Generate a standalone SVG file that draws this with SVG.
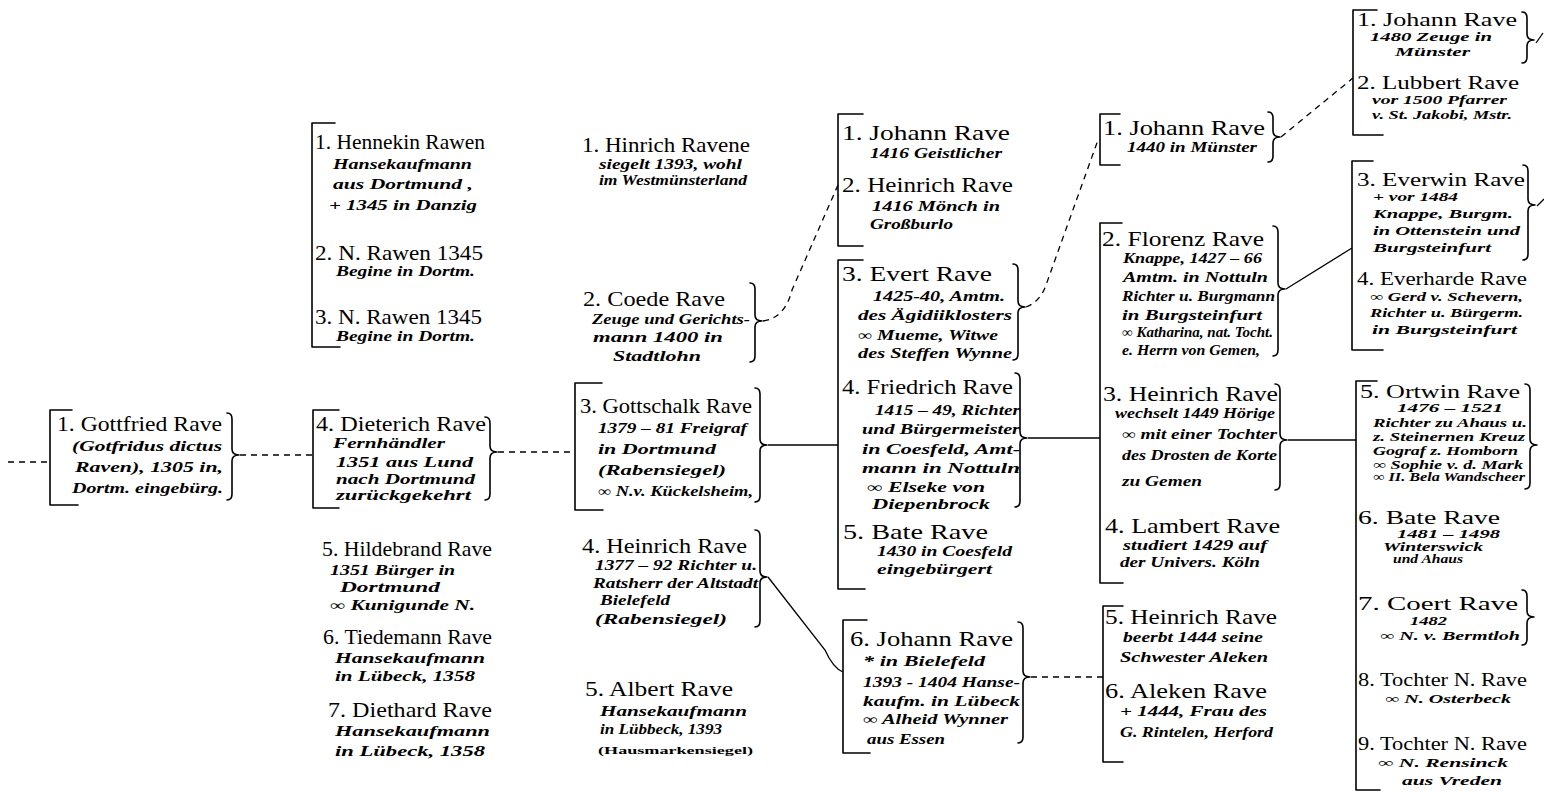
<svg xmlns="http://www.w3.org/2000/svg" width="1544" height="796" viewBox="0 0 1544 796">
<style>
.t{font-family:"Liberation Serif",serif;font-size:21px;fill:#000}
.t6{font-family:"Liberation Serif",serif;font-size:19px;fill:#000}
.d{font-family:"Liberation Serif",serif;font-size:14px;font-style:italic;font-weight:bold;fill:#000}
.d6{font-family:"Liberation Serif",serif;font-size:12.5px;font-style:italic;font-weight:bold;fill:#000}
.ds{font-family:"Liberation Serif",serif;font-size:11px;font-weight:bold;fill:#000}
.b{fill:none;stroke:#000;stroke-width:1.6;stroke-linejoin:round;stroke-linecap:round}
.c{fill:none;stroke:#000;stroke-width:1.3}
.dash{stroke-dasharray:6 5}
</style>
<rect width="1544" height="796" fill="#fff"/>

<g id="connectors">
<path class="c dash" d="M8,462 L49,462"/>
<path class="c dash" d="M240,455 L312,455"/>
<path class="c dash" d="M498,452 L574,452"/>
<path class="c" d="M768,445 L838,445"/>
<path class="c dash" d="M763,321 Q785,318 792,290 L838,185"/>
<path class="c" d="M768,577 L825,650 Q833,668 843,672"/>
<path class="c dash" d="M1026,307 Q1040,302 1046,285 L1098,140"/>
<path class="c" d="M1028,438 L1100,438"/>
<path class="c dash" d="M1031,677 L1103,677"/>
<path class="c dash" d="M1281,137 L1353,78"/>
<path class="c" d="M1286,289 L1352,248"/>
<path class="c" d="M1288,440 L1356,440"/>
<path class="c" d="M1536,43 L1543,33"/>
<path class="c" d="M1537,206 L1544,199"/>
</g>

<g id="n-gottfried">
<path class="b" d="M72,410 L50,410 L50,505 L78,505"/>
<path class="b" d="M227,413 Q232,413 232,419 L232,449 Q232,455 239,455 Q232,455 232,461 L232,494 Q232,500 227,500"/>
<text class="t" x="57" y="431" textLength="165" lengthAdjust="spacingAndGlyphs">1. Gottfried Rave</text>
<text class="d" x="72" y="451" textLength="150" lengthAdjust="spacingAndGlyphs">(Gotfridus dictus</text>
<text class="d" x="75" y="472" textLength="148" lengthAdjust="spacingAndGlyphs">Raven), 1305 in,</text>
<text class="d" x="72" y="493" textLength="151" lengthAdjust="spacingAndGlyphs">Dortm. eingebürg.</text>
</g>

<g id="n-hennekin">
<path class="b" d="M335,123 L312,123 L312,347 L340,347"/>
<text class="t" x="315" y="149" textLength="170" lengthAdjust="spacingAndGlyphs">1. Hennekin Rawen</text>
<text class="d" x="333" y="169" textLength="139" lengthAdjust="spacingAndGlyphs">Hansekaufmann</text>
<text class="d" x="333" y="189" textLength="140" lengthAdjust="spacingAndGlyphs">aus Dortmund ,</text>
<text class="d" x="329" y="210" textLength="148" lengthAdjust="spacingAndGlyphs">+ 1345 in Danzig</text>
<text class="t" x="315" y="260" textLength="168" lengthAdjust="spacingAndGlyphs">2. N. Rawen 1345</text>
<text class="d" x="336" y="276" textLength="139" lengthAdjust="spacingAndGlyphs">Begine in Dortm.</text>
<text class="t" x="315" y="324" textLength="167" lengthAdjust="spacingAndGlyphs">3. N. Rawen 1345</text>
<text class="d" x="336" y="341" textLength="139" lengthAdjust="spacingAndGlyphs">Begine in Dortm.</text>
</g>

<g id="n-dieterich">
<path class="b" d="M339,410 L313,410 L313,508 L339,508"/>
<path class="b" d="M485,417 Q490,417 490,423 L490,446 Q490,452 497,452 Q490,452 490,458 L490,494 Q490,500 485,500"/>
<text class="t" x="316" y="431" textLength="170" lengthAdjust="spacingAndGlyphs">4. Dieterich Rave</text>
<text class="d" x="333" y="448" textLength="112" lengthAdjust="spacingAndGlyphs">Fernhändler</text>
<text class="d" x="336" y="467" textLength="137" lengthAdjust="spacingAndGlyphs">1351 aus Lund</text>
<text class="d" x="336" y="484" textLength="139" lengthAdjust="spacingAndGlyphs">nach Dortmund</text>
<text class="d" x="336" y="500" textLength="135" lengthAdjust="spacingAndGlyphs">zurückgekehrt</text>
</g>

<g id="n-hildebrand">
<text class="t" x="322" y="556" textLength="170" lengthAdjust="spacingAndGlyphs">5. Hildebrand Rave</text>
<text class="d" x="330" y="575" textLength="125" lengthAdjust="spacingAndGlyphs">1351 Bürger in</text>
<text class="d" x="340" y="592" textLength="100" lengthAdjust="spacingAndGlyphs">Dortmund</text>
<text class="d" x="330" y="610" textLength="145" lengthAdjust="spacingAndGlyphs">∞ Kunigunde N.</text>
</g>
<g id="n-tiedemann">
<text class="t" x="323" y="644" textLength="169" lengthAdjust="spacingAndGlyphs">6. Tiedemann Rave</text>
<text class="d" x="335" y="663" textLength="150" lengthAdjust="spacingAndGlyphs">Hansekaufmann</text>
<text class="d" x="335" y="681" textLength="140" lengthAdjust="spacingAndGlyphs">in Lübeck, 1358</text>
</g>
<g id="n-diethard">
<text class="t" x="328" y="717" textLength="164" lengthAdjust="spacingAndGlyphs">7. Diethard Rave</text>
<text class="d" x="335" y="736" textLength="155" lengthAdjust="spacingAndGlyphs">Hansekaufmann</text>
<text class="d" x="335" y="756" textLength="150" lengthAdjust="spacingAndGlyphs">in Lübeck, 1358</text>
</g>

<g id="n-hinrich">
<text class="t" x="582" y="152" textLength="168" lengthAdjust="spacingAndGlyphs">1. Hinrich Ravene</text>
<text class="d" x="599" y="169" textLength="143" lengthAdjust="spacingAndGlyphs">siegelt 1393, wohl</text>
<text class="d" x="599" y="185" textLength="148" lengthAdjust="spacingAndGlyphs">im Westmünsterland</text>
</g>

<g id="n-coede">
<path class="b" d="M750,283 Q755,283 755,289 L755,315 Q755,321 762,321 Q755,321 755,327 L755,356 Q755,362 750,362"/>
<text class="t" x="583" y="306" textLength="142" lengthAdjust="spacingAndGlyphs">2. Coede Rave</text>
<text class="d" x="592" y="324" textLength="158" lengthAdjust="spacingAndGlyphs">Zeuge und Gerichts-</text>
<text class="d" x="593" y="342" textLength="130" lengthAdjust="spacingAndGlyphs">mann 1400 in</text>
<text class="d" x="613" y="361" textLength="88" lengthAdjust="spacingAndGlyphs">Stadtlohn</text>
</g>

<g id="n-gottschalk">
<path class="b" d="M602,383 L575,383 L575,510 L603,510"/>
<path class="b" d="M755,388 Q760,388 760,394 L760,439 Q760,445 767,445 Q760,445 760,451 L760,496 Q760,502 755,502"/>
<text class="t" x="580" y="413" textLength="172" lengthAdjust="spacingAndGlyphs">3. Gottschalk Rave</text>
<text class="d" x="598" y="433" textLength="149" lengthAdjust="spacingAndGlyphs">1379 – 81 Freigraf</text>
<text class="d" x="598" y="454" textLength="118" lengthAdjust="spacingAndGlyphs">in Dortmund</text>
<text class="d" x="598" y="475" textLength="128" lengthAdjust="spacingAndGlyphs">(Rabensiegel)</text>
<text class="d" x="598" y="496" textLength="155" lengthAdjust="spacingAndGlyphs">∞ N.v. Kückelsheim,</text>
</g>

<g id="n-heinrich4">
<path class="b" d="M755,530 Q760,530 760,536 L760,571 Q760,577 767,577 Q760,577 760,583 L760,621 Q760,627 755,627"/>
<text class="t" x="582" y="553" textLength="165" lengthAdjust="spacingAndGlyphs">4. Heinrich Rave</text>
<text class="d" x="595" y="570" textLength="162" lengthAdjust="spacingAndGlyphs">1377 – 92 Richter u.</text>
<text class="d" x="593" y="588" textLength="165" lengthAdjust="spacingAndGlyphs">Ratsherr der Altstadt</text>
<text class="d" x="600" y="605" textLength="70" lengthAdjust="spacingAndGlyphs">Bielefeld</text>
<text class="d" x="595" y="624" textLength="132" lengthAdjust="spacingAndGlyphs">(Rabensiegel)</text>
</g>

<g id="n-albert">
<text class="t" x="585" y="696" textLength="148" lengthAdjust="spacingAndGlyphs">5. Albert Rave</text>
<text class="d" x="600" y="716" textLength="147" lengthAdjust="spacingAndGlyphs">Hansekaufmann</text>
<text class="d" x="600" y="734" textLength="122" lengthAdjust="spacingAndGlyphs">in Lübbeck, 1393</text>
<text class="ds" x="598" y="754" textLength="155" lengthAdjust="spacingAndGlyphs">(Hausmarkensiegel)</text>
</g>

<g id="n-johann-heinrich-1416">
<path class="b" d="M863,114 L838,114 L838,246 L863,246"/>
<text class="t" x="842" y="140" textLength="168" lengthAdjust="spacingAndGlyphs">1. Johann Rave</text>
<text class="d" x="870" y="158" textLength="132" lengthAdjust="spacingAndGlyphs">1416 Geistlicher</text>
<text class="t" x="842" y="192" textLength="171" lengthAdjust="spacingAndGlyphs">2. Heinrich Rave</text>
<text class="d" x="872" y="211" textLength="128" lengthAdjust="spacingAndGlyphs">1416 Mönch in</text>
<text class="d" x="870" y="229" textLength="83" lengthAdjust="spacingAndGlyphs">Großburlo</text>
</g>

<g id="n-evert-friedrich-bate">
<path class="b" d="M863,260 L838,260 L838,589 L865,589"/>
<path class="b" d="M1013,264 Q1018,264 1018,270 L1018,301 Q1018,307 1025,307 Q1018,307 1018,313 L1018,354 Q1018,360 1013,360"/>
<path class="b" d="M1015,373 Q1020,373 1020,379 L1020,432 Q1020,438 1027,438 Q1020,438 1020,444 L1020,501 Q1020,507 1015,507"/>
<text class="t" x="842" y="281" textLength="150" lengthAdjust="spacingAndGlyphs">3. Evert Rave</text>
<text class="d" x="873" y="301" textLength="132" lengthAdjust="spacingAndGlyphs">1425-40, Amtm.</text>
<text class="d" x="858" y="320" textLength="154" lengthAdjust="spacingAndGlyphs">des Ägidiiklosters</text>
<text class="d" x="858" y="340" textLength="140" lengthAdjust="spacingAndGlyphs">∞ Mueme, Witwe</text>
<text class="d" x="858" y="358" textLength="154" lengthAdjust="spacingAndGlyphs">des Steffen Wynne</text>
<text class="t" x="842" y="394" textLength="171" lengthAdjust="spacingAndGlyphs">4. Friedrich Rave</text>
<text class="d" x="875" y="415" textLength="145" lengthAdjust="spacingAndGlyphs">1415 – 49, Richter</text>
<text class="d" x="862" y="434" textLength="158" lengthAdjust="spacingAndGlyphs">und Bürgermeister</text>
<text class="d" x="862" y="454" textLength="158" lengthAdjust="spacingAndGlyphs">in Coesfeld, Amt-</text>
<text class="d" x="862" y="473" textLength="158" lengthAdjust="spacingAndGlyphs">mann in Nottuln</text>
<text class="d" x="867" y="492" textLength="118" lengthAdjust="spacingAndGlyphs">∞ Elseke von</text>
<text class="d" x="872" y="509" textLength="118" lengthAdjust="spacingAndGlyphs">Diepenbrock</text>
<text class="t" x="843" y="539" textLength="145" lengthAdjust="spacingAndGlyphs">5. Bate Rave</text>
<text class="d" x="877" y="556" textLength="135" lengthAdjust="spacingAndGlyphs">1430 in Coesfeld</text>
<text class="d" x="877" y="574" textLength="115" lengthAdjust="spacingAndGlyphs">eingebürgert</text>
</g>

<g id="n-johann6">
<path class="b" d="M867,620 L843,620 L843,753 L870,753"/>
<path class="b" d="M1018,622 Q1023,622 1023,628 L1023,671 Q1023,677 1030,677 Q1023,677 1023,683 L1023,737 Q1023,743 1018,743"/>
<text class="t" x="850" y="646" textLength="163" lengthAdjust="spacingAndGlyphs">6. Johann Rave</text>
<text class="d" x="863" y="666" textLength="122" lengthAdjust="spacingAndGlyphs">* in Bielefeld</text>
<text class="d" x="863" y="687" textLength="157" lengthAdjust="spacingAndGlyphs">1393 - 1404 Hanse-</text>
<text class="d" x="863" y="706" textLength="157" lengthAdjust="spacingAndGlyphs">kaufm. in Lübeck</text>
<text class="d" x="863" y="724" textLength="145" lengthAdjust="spacingAndGlyphs">∞ Alheid Wynner</text>
<text class="d" x="867" y="744" textLength="78" lengthAdjust="spacingAndGlyphs">aus Essen</text>
</g>

<g id="n-johann1440">
<path class="b" d="M1120,114 L1100,114 L1100,165 L1120,165"/>
<path class="b" d="M1268,112 Q1273,112 1273,118 L1273,131 Q1273,137 1280,137 Q1273,137 1273,143 L1273,156 Q1273,162 1268,162"/>
<text class="t" x="1103" y="135" textLength="162" lengthAdjust="spacingAndGlyphs">1. Johann Rave</text>
<text class="d" x="1127" y="152" textLength="130" lengthAdjust="spacingAndGlyphs">1440 in Münster</text>
</g>

<g id="n-florenz-heinrich-lambert">
<path class="b" d="M1122,223 L1100,223 L1100,583 L1123,583"/>
<path class="b" d="M1273,226 Q1278,226 1278,232 L1278,283 Q1278,289 1285,289 Q1278,289 1278,295 L1278,350 Q1278,356 1273,356"/>
<path class="b" d="M1275,384 Q1280,384 1280,390 L1280,434 Q1280,440 1287,440 Q1280,440 1280,446 L1280,484 Q1280,490 1275,490"/>
<text class="t" x="1102" y="246" textLength="162" lengthAdjust="spacingAndGlyphs">2. Florenz Rave</text>
<text class="d" x="1123" y="263" textLength="139" lengthAdjust="spacingAndGlyphs">Knappe, 1427 – 66</text>
<text class="d" x="1123" y="282" textLength="145" lengthAdjust="spacingAndGlyphs">Amtm. in Nottuln</text>
<text class="d" x="1122" y="301" textLength="153" lengthAdjust="spacingAndGlyphs">Richter u. Burgmann</text>
<text class="d" x="1122" y="320" textLength="140" lengthAdjust="spacingAndGlyphs">in Burgsteinfurt</text>
<text class="d" x="1122" y="337" textLength="151" lengthAdjust="spacingAndGlyphs">∞ Katharina, nat. Tocht.</text>
<text class="d" x="1122" y="355" textLength="138" lengthAdjust="spacingAndGlyphs">e. Herrn von Gemen,</text>
<text class="t" x="1103" y="401" textLength="175" lengthAdjust="spacingAndGlyphs">3. Heinrich Rave</text>
<text class="d" x="1115" y="418" textLength="160" lengthAdjust="spacingAndGlyphs">wechselt 1449 Hörige</text>
<text class="d" x="1122" y="439" textLength="155" lengthAdjust="spacingAndGlyphs">∞ mit einer Tochter</text>
<text class="d" x="1122" y="460" textLength="155" lengthAdjust="spacingAndGlyphs">des Drosten de Korte</text>
<text class="d" x="1122" y="486" textLength="80" lengthAdjust="spacingAndGlyphs">zu Gemen</text>
<text class="t" x="1105" y="533" textLength="175" lengthAdjust="spacingAndGlyphs">4. Lambert Rave</text>
<text class="d" x="1123" y="550" textLength="144" lengthAdjust="spacingAndGlyphs">studiert 1429 auf</text>
<text class="d" x="1120" y="567" textLength="140" lengthAdjust="spacingAndGlyphs">der Univers. Köln</text>
</g>

<g id="n-heinrich5-aleken">
<path class="b" d="M1123,606 L1103,606 L1103,762 L1123,762"/>
<text class="t" x="1105" y="624" textLength="172" lengthAdjust="spacingAndGlyphs">5. Heinrich Rave</text>
<text class="d" x="1123" y="642" textLength="140" lengthAdjust="spacingAndGlyphs">beerbt 1444 seine</text>
<text class="d" x="1120" y="662" textLength="148" lengthAdjust="spacingAndGlyphs">Schwester Aleken</text>
<text class="t" x="1105" y="698" textLength="162" lengthAdjust="spacingAndGlyphs">6. Aleken Rave</text>
<text class="d" x="1120" y="716" textLength="147" lengthAdjust="spacingAndGlyphs">+ 1444, Frau des</text>
<text class="d" x="1120" y="737" textLength="153" lengthAdjust="spacingAndGlyphs">G. Rintelen, Herford</text>
</g>

<g id="n-johann-lubbert">
<path class="b" d="M1377,10 L1353,10 L1353,135 L1383,135"/>
<path class="b" d="M1522,12 Q1527,12 1527,18 L1527,34 Q1527,40 1534,40 Q1527,40 1527,46 L1527,57 Q1527,63 1522,63"/>
<text class="t6" x="1357" y="26" textLength="160" lengthAdjust="spacingAndGlyphs">1. Johann Rave</text>
<text class="d6" x="1370" y="41" textLength="122" lengthAdjust="spacingAndGlyphs">1480 Zeuge in</text>
<text class="d6" x="1395" y="56" textLength="75" lengthAdjust="spacingAndGlyphs">Münster</text>
<text class="t6" x="1357" y="89" textLength="162" lengthAdjust="spacingAndGlyphs">2. Lubbert Rave</text>
<text class="d6" x="1372" y="104" textLength="135" lengthAdjust="spacingAndGlyphs">vor 1500 Pfarrer</text>
<text class="d6" x="1372" y="119" textLength="140" lengthAdjust="spacingAndGlyphs">v. St. Jakobi, Mstr.</text>
</g>

<g id="n-everwin-everharde">
<path class="b" d="M1373,161 L1352,161 L1352,350 L1383,350"/>
<path class="b" d="M1523,165 Q1528,165 1528,171 L1528,199 Q1528,205 1535,205 Q1528,205 1528,211 L1528,254 Q1528,260 1523,260"/>
<text class="t6" x="1357" y="186" textLength="168" lengthAdjust="spacingAndGlyphs">3. Everwin Rave</text>
<text class="d6" x="1373" y="201" textLength="85" lengthAdjust="spacingAndGlyphs">+ vor 1484</text>
<text class="d6" x="1373" y="218" textLength="140" lengthAdjust="spacingAndGlyphs">Knappe, Burgm.</text>
<text class="d6" x="1373" y="235" textLength="147" lengthAdjust="spacingAndGlyphs">in Ottenstein und</text>
<text class="d6" x="1373" y="252" textLength="118" lengthAdjust="spacingAndGlyphs">Burgsteinfurt</text>
<text class="t6" x="1357" y="285" textLength="170" lengthAdjust="spacingAndGlyphs">4. Everharde Rave</text>
<text class="d6" x="1370" y="301" textLength="153" lengthAdjust="spacingAndGlyphs">∞ Gerd v. Schevern,</text>
<text class="d6" x="1370" y="317" textLength="153" lengthAdjust="spacingAndGlyphs">Richter u. Bürgerm.</text>
<text class="d6" x="1372" y="334" textLength="145" lengthAdjust="spacingAndGlyphs">in Burgsteinfurt</text>
</g>

<g id="n-ortwin-group">
<path class="b" d="M1377,381 L1356,381 L1356,790 L1380,790"/>
<path class="b" d="M1525,384 Q1530,384 1530,390 L1530,439 Q1530,445 1537,445 Q1530,445 1530,451 L1530,483 Q1530,489 1525,489"/>
<path class="b" d="M1522,590 Q1527,590 1527,596 L1527,611 Q1527,617 1534,617 Q1527,617 1527,623 L1527,639 Q1527,645 1522,645"/>
<text class="t6" x="1360" y="398" textLength="160" lengthAdjust="spacingAndGlyphs">5. Ortwin Rave</text>
<text class="d6" x="1397" y="412" textLength="106" lengthAdjust="spacingAndGlyphs">1476 – 1521</text>
<text class="d6" x="1373" y="427" textLength="154" lengthAdjust="spacingAndGlyphs">Richter zu Ahaus u.</text>
<text class="d6" x="1373" y="441" textLength="152" lengthAdjust="spacingAndGlyphs">z. Steinernen Kreuz</text>
<text class="d6" x="1373" y="455" textLength="145" lengthAdjust="spacingAndGlyphs">Gograf z. Homborn</text>
<text class="d6" x="1373" y="469" textLength="150" lengthAdjust="spacingAndGlyphs">∞ Sophie v. d. Mark</text>
<text class="d6" x="1373" y="481" textLength="152" lengthAdjust="spacingAndGlyphs">∞ II. Bela Wandscheer</text>
<text class="t6" x="1358" y="524" textLength="142" lengthAdjust="spacingAndGlyphs">6. Bate Rave</text>
<text class="d6" x="1397" y="538" textLength="103" lengthAdjust="spacingAndGlyphs">1481 – 1498</text>
<text class="d6" x="1383" y="551" textLength="100" lengthAdjust="spacingAndGlyphs">Winterswick</text>
<text class="d6" x="1393" y="563" textLength="70" lengthAdjust="spacingAndGlyphs">und Ahaus</text>
<text class="t6" x="1358" y="610" textLength="160" lengthAdjust="spacingAndGlyphs">7. Coert Rave</text>
<text class="d6" x="1410" y="625" textLength="37" lengthAdjust="spacingAndGlyphs">1482</text>
<text class="d6" x="1380" y="640" textLength="140" lengthAdjust="spacingAndGlyphs">∞ N. v. Bermtloh</text>
<text class="t6" x="1358" y="686" textLength="169" lengthAdjust="spacingAndGlyphs">8. Tochter N. Rave</text>
<text class="d6" x="1385" y="703" textLength="126" lengthAdjust="spacingAndGlyphs">∞ N. Osterbeck</text>
<text class="t6" x="1358" y="750" textLength="169" lengthAdjust="spacingAndGlyphs">9. Tochter N. Rave</text>
<text class="d6" x="1378" y="767" textLength="130" lengthAdjust="spacingAndGlyphs">∞ N. Rensinck</text>
<text class="d6" x="1402" y="785" textLength="100" lengthAdjust="spacingAndGlyphs">aus Vreden</text>
</g>
</svg>
